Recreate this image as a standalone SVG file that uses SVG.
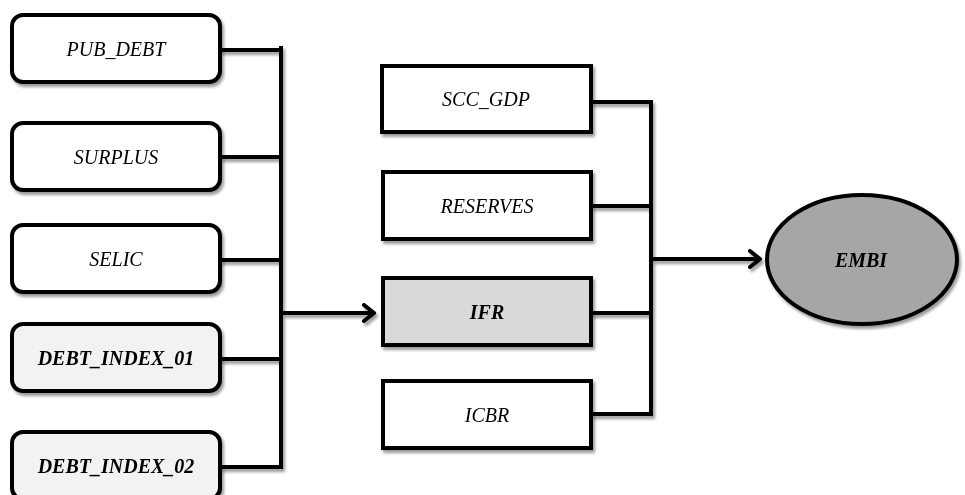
<svg xmlns="http://www.w3.org/2000/svg" width="965" height="495" viewBox="0 0 965 495">
<style>
.box{stroke:#000;stroke-width:4;}
.w{fill:#fff;}
.g1{fill:#f2f2f2;}
.g2{fill:#d9d9d9;}
.g3{fill:#a6a6a6;}
.t{font-family:"Liberation Serif","Times New Roman",serif;font-size:20px;font-style:italic;text-anchor:middle;fill:#000;}
.b{font-weight:bold;}
.ln{stroke:#000;stroke-width:4;fill:none;}
</style>
<defs>
<filter id="sh" x="-10%" y="-10%" width="130%" height="130%">
<feGaussianBlur in="SourceAlpha" stdDeviation="1.5"/>
<feOffset dx="2" dy="3" result="o"/>
<feComponentTransfer><feFuncA type="linear" slope="0.4"/></feComponentTransfer>
<feMerge><feMergeNode/><feMergeNode in="SourceGraphic"/></feMerge>
</filter>
<marker id="ar" markerWidth="16" markerHeight="20" refX="13" refY="10" orient="auto" markerUnits="userSpaceOnUse" viewBox="0 0 16 20">
<path d="M3,2 L13,10 L3,18" fill="none" stroke="#000" stroke-width="4" stroke-linecap="round" stroke-linejoin="round"/>
</marker>
</defs>
<rect width="965" height="495" fill="#fff"/>
<g id="connectors" filter="url(#sh)">
<path class="ln" d="M220,50 H281 M220,157 H281 M220,260 H281 M220,359 H281 M220,467 H281 M281,46 V469"/>
<path class="ln" d="M281,313 H374" marker-end="url(#ar)"/>
<path class="ln" d="M591,102 H651 M591,206 H651 M591,313 H651 M591,414 H651 M651,100 V416"/>
<path class="ln" d="M651,259 H760" marker-end="url(#ar)"/>
</g>
<g id="pub_debt" filter="url(#sh)"><rect class="box w" x="12" y="15" width="208" height="67" rx="11"/><text class="t" x="116" y="56">PUB_DEBT</text></g>
<g id="surplus" filter="url(#sh)"><rect class="box w" x="12" y="123" width="208" height="67" rx="11"/><text class="t" x="116" y="164">SURPLUS</text></g>
<g id="selic" filter="url(#sh)"><rect class="box w" x="12" y="225" width="208" height="67" rx="11"/><text class="t" x="116" y="266">SELIC</text></g>
<g id="debt_index_01" filter="url(#sh)"><rect class="box g1" x="12" y="324" width="208" height="67" rx="11"/><text class="t b" x="116" y="365">DEBT_INDEX_01</text></g>
<g id="debt_index_02" filter="url(#sh)"><rect class="box g1" x="12" y="432" width="208" height="67" rx="11"/><text class="t b" x="116" y="473">DEBT_INDEX_02</text></g>
<g id="scc_gdp" filter="url(#sh)"><rect class="box w" x="382" y="66" width="209" height="66"/><text class="t" x="486" y="106">SCC_GDP</text></g>
<g id="reserves" filter="url(#sh)"><rect class="box w" x="383" y="172" width="208" height="67"/><text class="t" x="487" y="213">RESERVES</text></g>
<g id="ifr" filter="url(#sh)"><rect class="box g2" x="383" y="278" width="208" height="67"/><text class="t b" x="487" y="319">IFR</text></g>
<g id="icbr" filter="url(#sh)"><rect class="box w" x="383" y="381" width="208" height="67"/><text class="t" x="487" y="422">ICBR</text></g>
<g id="embi" filter="url(#sh)"><ellipse class="box g3" cx="862" cy="259.5" rx="95" ry="64.5"/><text class="t b" x="861" y="267">EMBI</text></g>
</svg>
